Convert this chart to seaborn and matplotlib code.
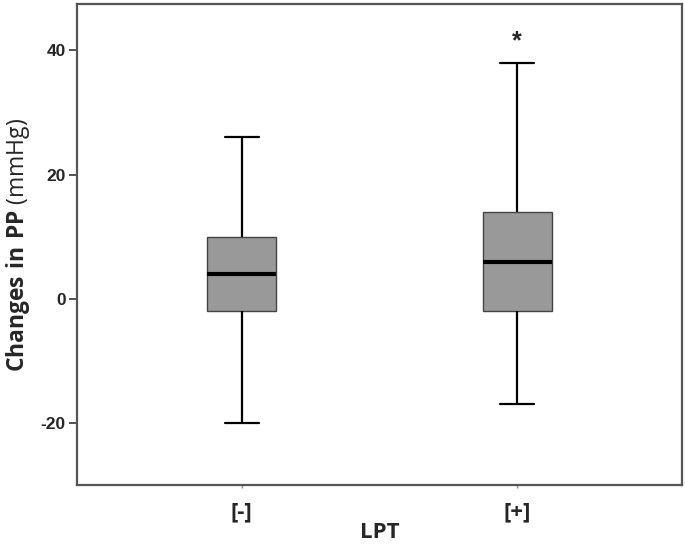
import matplotlib
matplotlib.use("Agg")
import matplotlib.pyplot as plt
import seaborn as sns
import pandas as pd
import numpy as np

# Five-number summaries (min, Q1, median, Q3, max)
categories = ["[-]", "[+]"]
lpt_neg = [-20, -2, 4, 10, 26]
lpt_pos = [-17, -2, 6, 14, 38]
y_ticks = [-20, 0, 20, 40]
star_label = "*"

df = pd.DataFrame({
    "LPT": [categories[0]] * len(lpt_neg) + [categories[1]] * len(lpt_pos),
    "PP": lpt_neg + lpt_pos,
})

sns.set_style("white")
plt.rcParams["font.family"] = ["Liberation Sans", "DejaVu Sans"]
plt.rcParams["mathtext.fontset"] = "custom"
plt.rcParams["mathtext.bf"] = "Open Sans:bold"
plt.rcParams["mathtext.rm"] = "Open Sans"

fig = plt.figure(figsize=(6.85, 5.44), dpi=100)
ax = fig.add_axes([0.112, 0.108, 0.884, 0.885])

sns.boxplot(data=df, x="LPT", y="PP", order=categories, ax=ax,
            whis=(0, 100), width=0.25, color="#999999", saturation=1,
            linecolor="black", linewidth=1.6,
            boxprops=dict(edgecolor="#444444", linewidth=1.0),
            medianprops=dict(color="black", linewidth=3),
            whiskerprops=dict(color="black", linewidth=1.6),
            capprops=dict(color="black", linewidth=1.6),
            showfliers=False)

ax.set_xlim(-0.6, 1.6)
ax.set_ylim(-30, 47.5)
ax.set_yticks(y_ticks)
ax.set_yticklabels([str(v) for v in y_ticks], fontsize=12.5, fontweight="bold",
                   family="Liberation Sans")
ax.set_xticks([0, 1])
ax.set_xticklabels(categories)
for lab in ax.get_xticklabels():
    lab.set_fontfamily("Open Sans")
    lab.set_fontweight("bold")
    lab.set_fontsize(16)

ax.tick_params(axis="y", direction="out", length=6, width=1.3, color="#444444", pad=2, left=True)
ax.tick_params(axis="x", direction="out", length=2, width=1, color="#888888", pad=10, bottom=True)

for s in ax.spines.values():
    s.set_color("#555555")
    s.set_linewidth(1.6)
    s.set_visible(True)

ax.set_xlabel("LPT", fontsize=16, fontweight="bold", family="Open Sans", labelpad=-1)
ax.set_ylabel(r"$\mathbf{Changes\ in\ PP}$ (mmHg)", fontsize=16.5, family="Open Sans", labelpad=6)

ax.text(1, 41.5, star_label, ha="center", va="center", fontsize=18, fontweight="bold")

fig.savefig("out.png", dpi=100)
